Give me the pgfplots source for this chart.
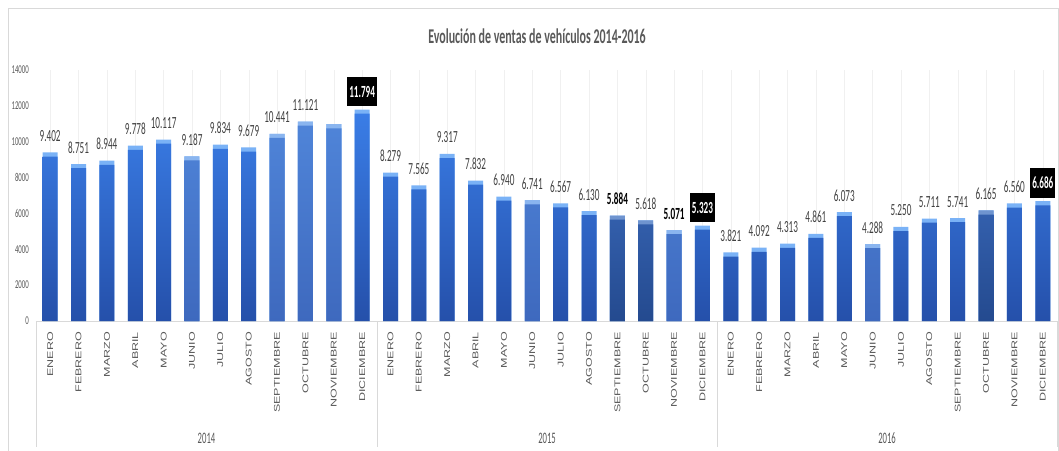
\documentclass[border=0pt]{standalone}
\usepackage{fontspec}
\setmainfont{Carlito}
\newfontfamily\monthfont{Liberation Sans}
\usepackage{pgfplots}
\usepackage{pgfplotstable}
\pgfplotsset{compat=1.18}

\definecolor{ntop}{HTML}{3A7DE6}
\definecolor{nbot}{HTML}{2550AA}
\definecolor{nhi}{HTML}{7AB2F6}
\definecolor{ltop}{HTML}{4F84D8}
\definecolor{lbot}{HTML}{3E69BE}
\definecolor{lhi}{HTML}{8AB5EF}
\definecolor{dtop}{HTML}{335FAC}
\definecolor{dbot}{HTML}{244A8F}
\definecolor{dhi}{HTML}{6F94CF}
\definecolor{txt}{HTML}{404040}
\definecolor{tick}{HTML}{595959}
\definecolor{frame}{HTML}{D9D9D9}

% cls: 0 normal, 1 light, 2 dark ; lt: 0 normal label, 1 none, 2 bold, 3 boxed
\pgfplotstableread{
x y cls lt lab
0 9402 0 0 9.402
1 8751 0 0 8.751
2 8944 0 0 8.944
3 9778 0 0 9.778
4 10117 0 0 10.117
5 9187 1 0 9.187
6 9834 0 0 9.834
7 9679 0 0 9.679
8 10441 1 0 10.441
9 11121 1 0 11.121
10 10980 1 1 10.980
11 11794 0 3 11.794
12 8279 0 0 8.279
13 7565 0 0 7.565
14 9317 0 0 9.317
15 7832 0 0 7.832
16 6940 0 0 6.940
17 6741 1 0 6.741
18 6567 0 0 6.567
19 6130 0 0 6.130
20 5884 2 2 5.884
21 5618 2 0 5.618
22 5071 1 2 5.071
23 5323 0 3 5.323
24 3821 0 0 3.821
25 4092 0 0 4.092
26 4313 0 0 4.313
27 4861 0 0 4.861
28 6073 0 0 6.073
29 4288 1 0 4.288
30 5250 0 0 5.250
31 5711 0 0 5.711
32 5741 0 0 5.741
33 6165 2 0 6.165
34 6560 0 0 6.560
35 6686 0 3 6.686
}\ventas

\begin{document}
\begin{tikzpicture}
\begin{axis}[
  scale only axis, width=1021pt, height=251pt,
  xmin=-0.5, xmax=35.5, ymin=0, ymax=14000,
  axis x line*=bottom, axis y line*=left,
  x axis line style={draw=frame},
  y axis line style={draw=none},
  major tick length=0pt,
  xtick={0,...,35},
  xticklabels={ENERO,FEBRERO,MARZO,ABRIL,MAYO,JUNIO,JULIO,AGOSTO,SEPTIEMBRE,OCTUBRE,NOVIEMBRE,DICIEMBRE,ENERO,FEBRERO,MARZO,ABRIL,MAYO,JUNIO,JULIO,AGOSTO,SEPTIEMBRE,OCTUBRE,NOVIEMBRE,DICIEMBRE,ENERO,FEBRERO,MARZO,ABRIL,MAYO,JUNIO,JULIO,AGOSTO,SEPTIEMBRE,OCTUBRE,NOVIEMBRE,DICIEMBRE},
  xticklabel style={rotate=90, anchor=east, inner sep=0pt, font=\monthfont\fontsize{12.5}{12.5}\selectfont, text=tick, yscale=0.67},
  xticklabel shift=11pt,
  ytick={0,2000,...,14000},
  yticklabel style={font=\fontsize{12}{12}\selectfont, text=tick, xscale=0.57, inner sep=0pt},
  yticklabel shift=7pt,
  scaled y ticks=false,
  /pgf/number format/assume math mode=true,
  /pgf/number format/1000 sep={},
  xmajorgrids, major grid style={draw=gray!12},
  clip=false,
  bar width=15pt,
]
% bevel (light top strip) then gradient body
\addplot[ybar, bar shift=0pt, draw=none, fill=nhi] table[x=x,y=y]{\ventas};
\addplot[ybar, bar shift=0pt, draw=none, bottom color=nbot, top color=ntop] table[x=x,y expr=\thisrow{y}-230]{\ventas};
\addplot[ybar, bar shift=0pt, draw=none, fill=lhi, restrict expr to domain={\thisrow{cls}}{1:1}] table[x=x,y=y]{\ventas};
\addplot[ybar, bar shift=0pt, draw=none, bottom color=lbot, top color=ltop, restrict expr to domain={\thisrow{cls}}{1:1}] table[x=x,y expr=\thisrow{y}-230]{\ventas};
\addplot[ybar, bar shift=0pt, draw=none, fill=dhi, restrict expr to domain={\thisrow{cls}}{2:2}] table[x=x,y=y]{\ventas};
\addplot[ybar, bar shift=0pt, draw=none, bottom color=dbot, top color=dtop, restrict expr to domain={\thisrow{cls}}{2:2}] table[x=x,y expr=\thisrow{y}-230]{\ventas};

\addplot[ybar, bar shift=0pt, draw=none, fill=none, point meta=explicit symbolic, nodes near coords,
  nodes near coords style={anchor=base, yshift=11pt, inner sep=0pt, font=\fontsize{17}{17}\selectfont, text=txt, xscale=0.54},
  restrict expr to domain={\thisrow{lt}}{0:0}] table[x=x,y=y,meta=lab]{\ventas};
\addplot[ybar, bar shift=0pt, draw=none, fill=none, point meta=explicit symbolic, nodes near coords,
  nodes near coords style={anchor=base, yshift=11pt, inner sep=0pt, font=\bfseries\fontsize{17}{17}\selectfont, text=black, xscale=0.54},
  restrict expr to domain={\thisrow{lt}}{2:2}] table[x=x,y=y,meta=lab]{\ventas};
\addplot[ybar, bar shift=0pt, draw=none, fill=none, point meta=explicit symbolic, nodes near coords,
  nodes near coords style={anchor=south, yshift=3pt, inner xsep=4pt, inner ysep=9pt, fill=black, font=\bfseries\fontsize{17}{17}\selectfont, text=white, xscale=0.54},
  restrict expr to domain={\thisrow{lt}}{3:3}] table[x=x,y=y,meta=lab]{\ventas};
\end{axis}

% frame and separators
\draw[frame] (-28pt,-140pt) -- (-28pt,313pt) -- (1022pt,313pt) -- (1022pt,-140pt);
\foreach \sx in {0,341,681,1021} \draw[frame] (\sx pt,0pt) -- (\sx pt,-126pt);

\node[anchor=base, font=\bfseries\fontsize{21}{21}\selectfont, text=tick, xscale=0.57] at (501pt,277pt) {Evolución de ventas de vehículos 2014-2016};
\node[anchor=base, font=\fontsize{16}{16}\selectfont, text=tick, xscale=0.54] at (170.5pt,-122pt) {2014};
\node[anchor=base, font=\fontsize{16}{16}\selectfont, text=tick, xscale=0.54] at (511pt,-122pt) {2015};
\node[anchor=base, font=\fontsize{16}{16}\selectfont, text=tick, xscale=0.54] at (851pt,-122pt) {2016};

\pgfresetboundingbox
\path (-36pt,-129pt) rectangle (1023pt,321pt);
\end{tikzpicture}
\end{document}
